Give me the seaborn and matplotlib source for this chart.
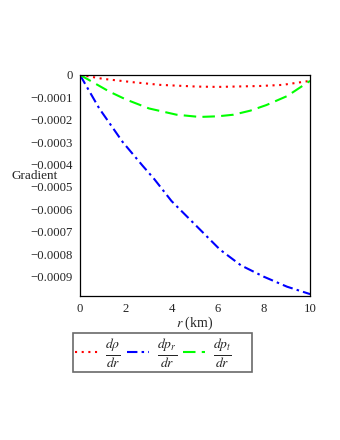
import numpy as np
import pandas as pd
import seaborn as sns
import matplotlib.pyplot as plt
from matplotlib.ticker import FixedLocator, MultipleLocator

# ==== dữ liệu ====
r_rho = [0, 1.0, 2.3, 3.5, 5.07, 6.0, 6.67, 7.8, 8.8, 10]
grad_rho = [0, -0.000018, -0.000033, -0.000045, -0.0000525, -0.000054, -0.0000525, -0.000050, -0.000045, -0.000027]

r_pr = [0, 0.84, 1.86, 2.72, 3.23, 3.98, 5.07, 6.09, 7.0, 7.98, 9.0, 10]
grad_pr = [0, -0.00015, -0.0003, -0.000405, -0.000465, -0.000563, -0.000675, -0.00078, -0.00085, -0.0009, -0.000945, -0.000978]

r_pt = [0, 1.28, 2.0, 3.0, 4.2, 5.2, 6.0, 6.67, 7.4, 8.1, 9.0, 10]
grad_pt = [0, -0.000075, -0.000110, -0.00015, -0.000178, -0.000188, -0.000185, -0.000178, -0.000160, -0.000135, -0.000095, -0.000027]

y_ticks = [0, -0.0001, -0.0002, -0.0003, -0.0004, -0.0005, -0.0006, -0.0007, -0.0008, -0.0009]
y_labels = ["0", "\u22120.0001", "\u22120.0002", "\u22120.0003", "\u22120.0004",
            "\u22120.0005", "\u22120.0006", "\u22120.0007", "\u22120.0008", "\u22120.0009"]
x_ticks = [0, 2, 4, 6, 8, 10]

labels = [r"$\frac{d\rho}{dr}$", r"$\frac{dp_r}{dr}$", r"$\frac{dp_t}{dr}$"]

sns.set_style("white")
plt.rcParams["font.family"] = ["Liberation Serif", "DejaVu Serif"]
plt.rcParams["mathtext.fontset"] = "stix"

fig = plt.figure(figsize=(3.4, 4.4), dpi=100)
ax = fig.add_axes([0.235, 0.327, 0.677, 0.503])

df_rho = pd.DataFrame({"r": r_rho, "g": grad_rho})
df_pr = pd.DataFrame({"r": r_pr, "g": grad_pr})
df_pt = pd.DataFrame({"r": r_pt, "g": grad_pt})

sns.lineplot(data=df_rho, x="r", y="g", ax=ax, color="#ff0000", lw=1.5,
             linestyle=(0, (1, 2.2)), label=labels[0])
sns.lineplot(data=df_pr, x="r", y="g", ax=ax, color="#0000ff", lw=1.5,
             linestyle=(0, (5, 2, 1.2, 2)), label=labels[1])
sns.lineplot(data=df_pt, x="r", y="g", ax=ax, color="#00ff00", lw=1.5,
             linestyle=(0, (6, 3)), label=labels[2])

ax.set_xlim(0, 10)
ax.set_ylim(-0.000987, 0)
ax.yaxis.set_major_locator(FixedLocator(y_ticks))
ax.set_yticklabels(y_labels)
ax.set_xticks(x_ticks)
ax.set_xticklabels([str(v) for v in x_ticks])
ax.xaxis.set_minor_locator(MultipleLocator(1))
ax.yaxis.set_minor_locator(MultipleLocator(0.00005))
ax.tick_params(axis="both", which="major", direction="out", length=3, width=0.6,
               labelsize=9.2, pad=2, color="#555555")
ax.tick_params(axis="both", which="minor", direction="out", length=1.5, width=0.5,
               color="#555555")
for s in ax.spines.values():
    s.set_linewidth(0.9)
    s.set_color("black")

ax.set_xlabel(r"$\mathbf{\mathit{r}}$ (km)", fontsize=10, labelpad=0)
ax.set_ylabel("Gradient", fontsize=9.5, rotation=0, va="center")
ax.yaxis.set_label_coords(-0.196, 0.542)

# chú thích: thêm khoảng trắng cuối để khung rộng giống bản gốc
leg = ax.legend(loc="upper left", bbox_to_anchor=(-0.03, -0.168), ncol=3,
                frameon=True, fancybox=False, fontsize=14, handlelength=1.15,
                handletextpad=0.4, columnspacing=0.3, borderpad=0.12,
                borderaxespad=0)
leg.get_frame().set_edgecolor("#444444")
leg.get_frame().set_linewidth(1.2)
leg.get_texts()[2].set_text(labels[2] + "    ")

fig.savefig("out.png", dpi=100)
